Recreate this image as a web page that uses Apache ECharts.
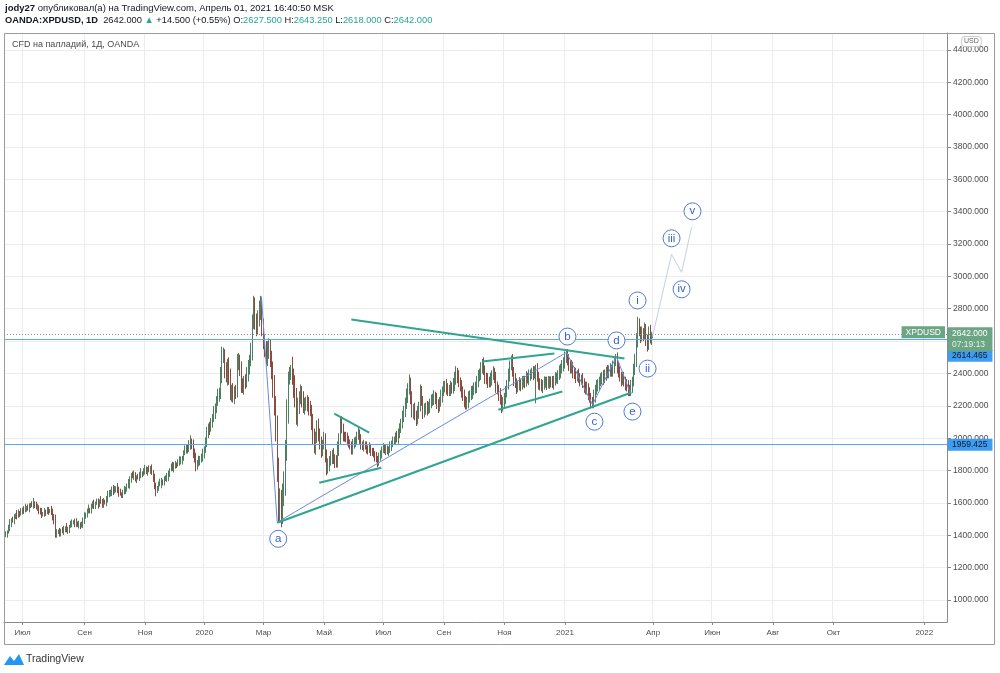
<!DOCTYPE html>
<html><head><meta charset="utf-8">
<script src="https://cdn.jsdelivr.net/npm/echarts@6.0.0/dist/echarts.min.js"></script>
<style>html,body{margin:0;padding:0;background:#fff}#c{width:1000px;height:673px}</style>
</head><body><div id="c"></div>
<script>
// ---- axis categories (trading days) ----
const startDate = '2019-06-12';
const categoryCount = 685;
const monthTicks = [
  ['2019-07-01','Июл'],['2019-09-02','Сен'],['2019-11-01','Ноя'],['2020-01-01','2020'],
  ['2020-03-02','Мар'],['2020-05-01','Май'],['2020-07-01','Июл'],['2020-09-01','Сен'],
  ['2020-11-02','Ноя'],['2021-01-01','2021'],['2021-04-01','Апр'],['2021-06-01','Июн'],
  ['2021-08-02','Авг'],['2021-10-01','Окт'],['2022-01-03','2022']
];
const yTicks = [1000,1200,1400,1600,1800,2000,2200,2400,2600,2800,3000,3200,3400,3600,3800,4000,4200,4400];

// ---- daily closes (USD), index 0 = 2019-06-12 ----
const firstOpen = 1392;
const closes = [
1398,1405,1420,1445,1470,1495,1488,1510,1525,1518,
1540,1532,1548,1560,1552,1565,1570,1562,1578,1590,
1584,1600,1588,1570,1575,1550,1538,1526,1534,1548,
1540,1555,1546,1552,1545,1512,1498,1405,1418,1425,
1412,1430,1422,1438,1445,1428,1433,1455,1470,1478,
1483,1470,1476,1462,1470,1458,1464,1490,1512,1530,
1545,1560,1555,1575,1590,1582,1598,1607,1595,1612,
1604,1590,1610,1600,1622,1645,1660,1672,1681,1668,
1685,1693,1680,1668,1655,1650,1662,1675,1690,1700,
1718,1745,1774,1762,1770,1752,1760,1755,1772,1785,
1778,1795,1805,1798,1812,1800,1808,1793,1760,1705,
1681,1695,1712,1720,1735,1728,1745,1750,1755,1780,
1805,1824,1818,1832,1840,1835,1850,1858,1867,1880,
1905,1925,1941,1935,1958,1978,1962,1916,1880,1835,
1845,1862,1870,1885,1905,1929,1975,2030,2071,2060,
2095,2130,2158,2185,2230,2265,2282,2390,2505,2510,
2420,2385,2460,2380,2275,2300,2260,2290,2282,2470,
2486,2424,2330,2319,2355,2344,2390,2443,2485,2530,
2715,2820,2730,2680,2740,2790,2830,2680,2590,2560,
2505,2540,2567,2480,2424,2320,2200,2060,1820,1560,
1620,1540,1640,1724,1930,2150,2381,2420,2443,2380,
2319,2250,2133,2200,2250,2282,2240,2195,2210,2226,
2205,2190,2176,2100,2020,1947,2010,2071,2030,1970,
1929,1960,1990,1900,1810,1835,1860,1880,1898,1870,
1855,1848,1930,1990,2096,2060,2020,2009,1995,1985,
1972,1950,1929,1955,1975,1990,2010,2034,1995,1960,
1947,1960,1950,1935,1929,1945,1920,1910,1900,1885,
1870,1850,1880,1905,1929,1940,1925,1935,1920,1929,
1950,1965,1980,1990,2005,1995,2030,2052,2090,2130,
2170,2210,2257,2300,2344,2250,2158,2180,2140,2115,
2160,2195,2282,2230,2158,2175,2190,2180,2195,2215,
2230,2245,2257,2240,2210,2195,2225,2260,2290,2313,
2325,2310,2290,2300,2315,2305,2331,2360,2405,2380,
2345,2319,2290,2260,2230,2207,2225,2250,2265,2282,
2295,2305,2319,2345,2381,2400,2430,2460,2420,2375,
2362,2350,2344,2365,2390,2405,2370,2320,2300,2270,
2238,2195,2215,2250,2282,2330,2390,2450,2480,2410,
2362,2340,2313,2325,2338,2330,2344,2355,2348,2375,
2368,2385,2395,2405,2398,2415,2424,2380,2340,2325,
2319,2330,2342,2350,2338,2345,2352,2344,2340,2355,
2368,2375,2390,2410,2430,2443,2470,2495,2520,2480,
2455,2430,2443,2410,2395,2381,2390,2372,2360,2362,
2340,2320,2300,2310,2275,2250,2225,2215,2260,2300,
2319,2335,2350,2362,2380,2370,2395,2412,2400,2420,
2424,2410,2440,2475,2490,2440,2405,2380,2360,2370,
2350,2335,2319,2300,2290,2320,2350,2420,2480,2600,
2700,2660,2628,2650,2640,2675,2600,2585,2660,2615,
2627.5
];
// upper / lower wick lengths, in units of 10 USD
const upperWick = [
1,2,1,2,3,1,2,2,1,3,2,1,2,1,2,3,1,2,2,1,
2,3,1,2,2,1,2,3,1,2,1,2,2,1,3,2,2,3,2,1,
2,1,2,2,1,3,2,1,2,2,1,2,3,1,2,1,2,2,3,1,
2,3,1,2,2,3,1,2,2,1,3,2,2,1,2,3,2,1,2,3,
2,1,3,2,2,1,2,3,1,2,3,2,1,2,3,2,1,2,2,3,
1,2,3,2,1,2,2,3,1,2,2,1,2,3,2,1,2,2,3,2,
1,2,3,2,2,1,2,3,2,1,2,3,2,2,3,4,2,3,2,3,
2,3,2,2,3,2,3,4,2,3,3,2,4,3,3,4,3,5,6,5,
4,5,3,4,5,3,4,3,4,5,4,3,5,4,3,4,5,4,3,6,
5,6,5,4,5,6,5,4,6,5,4,6,5,4,6,5,7,6,8,6,
7,6,8,7,6,9,3,2,1,6,5,7,6,5,4,5,4,5,4,3,
4,5,4,3,5,4,3,4,5,3,4,3,5,4,3,4,3,4,3,4,
3,4,5,4,3,4,3,2,3,4,3,2,3,4,3,2,3,4,2,3,
2,3,2,3,2,3,2,2,3,2,3,2,3,2,2,3,2,3,2,2,
3,2,3,2,3,4,3,4,3,4,3,4,5,4,5,3,4,3,4,3,
4,3,5,4,3,4,3,4,3,3,4,3,4,3,4,3,3,4,3,4,
3,4,3,3,4,3,4,5,4,3,4,3,4,3,4,3,3,4,3,4,
3,4,3,4,4,3,4,3,4,3,3,4,3,4,3,4,3,4,3,3,
4,3,4,3,4,3,4,3,3,4,3,4,3,3,4,3,4,3,3,4,
3,4,3,3,4,3,3,4,3,3,4,3,4,3,3,4,3,3,4,3,
4,3,3,4,3,4,3,4,3,3,4,3,4,3,3,4,3,4,3,3,
4,3,3,4,3,4,3,3,4,3,4,3,3,4,3,4,3,3,4,3,
4,3,4,3,3,4,3,4,3,3,4,3,3,4,3,4,3,4,4,5,
5,4,3,4,3,4,3,4,3,4,3
];
const lowerWick = [
2,1,2,1,2,2,1,2,1,2,1,2,1,2,2,1,2,1,2,1,
1,2,2,1,2,2,1,2,1,2,2,1,2,1,2,2,3,2,2,1,
2,2,1,2,2,1,2,2,1,2,1,2,2,1,2,2,1,2,2,1,
2,1,2,2,1,2,2,1,3,2,1,2,2,1,2,2,1,2,3,2,
1,2,2,3,1,2,2,1,2,2,1,3,2,1,2,2,3,1,2,2,
2,1,2,2,3,1,2,2,3,2,4,2,2,1,3,2,2,1,2,2,
2,1,2,3,2,2,1,2,2,3,2,1,2,3,2,3,3,4,3,4,
3,2,3,2,3,3,2,3,3,4,2,3,3,4,3,3,4,4,5,4,
5,4,6,5,4,5,4,5,4,3,5,4,5,4,5,4,3,4,5,4,
5,4,6,5,4,5,6,5,4,6,5,6,5,4,6,7,6,8,9,8,
8,9,7,6,8,7,6,5,6,5,7,6,5,6,5,4,5,4,5,4,
4,5,4,5,6,4,5,4,5,4,5,4,3,5,4,3,4,3,4,3,
4,3,3,4,3,3,4,3,2,3,3,2,3,3,2,3,3,2,3,3,
2,3,2,3,3,2,3,2,2,3,2,3,2,2,3,2,2,3,2,3,
2,3,2,2,3,2,3,3,2,3,3,4,3,4,3,4,3,4,3,4,
3,4,3,3,4,3,3,4,3,4,3,3,4,3,3,4,3,3,4,3,
3,4,3,3,4,3,3,4,3,4,3,3,4,3,4,3,3,4,3,3,
4,3,3,4,3,3,4,3,3,4,3,4,3,3,4,3,3,4,3,4,
3,4,3,3,4,3,3,4,3,3,4,3,4,3,3,4,3,3,4,3,
3,4,3,3,4,3,20,3,4,3,3,4,3,3,4,3,4,3,3,4,
3,3,4,3,4,3,3,4,3,3,4,3,3,4,3,4,3,3,4,3,
3,4,3,3,4,3,4,3,3,4,3,3,4,3,3,4,3,4,3,3,
4,3,3,4,3,4,3,3,4,3,3,4,3,4,3,3,4,3,3,4,
4,3,4,3,4,3,3,5,4,3,4
];
// last (live) bar from the header: O, H, L, C
const lastBar = [2627.5, 2643.25, 2618.0, 2642.0];
// horizontal price levels drawn on the chart
const bidLine = 2614.465;
const levelLine = 1959.425;
const lastTimer = '07:19:13';

// ---- drawn annotations (bar index, price) ----
const teal = '#2fa58f';
const trendLines = [
  [[251.8,2734],[450.2,2492]],
  [[198.0,1477],[455.3,2282]],
  [[239.4,2152],[264.8,2034]],
  [[228.5,1724],[273.6,1817]],
  [[347.0,2474],[399.3,2523]],
  [[358.6,2176],[405.1,2288]]
];
const waveLines = [
  [[186.5,2876],[198.0,1480]],
  [[198.0,1480],[408.1,2530],[427.0,2207],[444.4,2505],[454.6,2276]]
];
const projection = [[470.6,2628],[484.4,3136],[491.7,3025],[499.0,3303]];
const waveLabels = [
  ['a',198.7,1378],['b',408.8,2628],['c',428.4,2102],['d',444.4,2604],['e',456.0,2164],
  ['i',459.7,2851],['ii',467.0,2430],['iii',484.4,3235],['iv',491.7,2920],['v',499.6,3402]
];

// ---- build ----
const dates = [];
{ let d = new Date(startDate + 'T00:00:00Z');
  while (dates.length < categoryCount) {
    const w = d.getUTCDay();
    if (w !== 0 && w !== 6) dates.push(d.toISOString().slice(0,10));
    d.setUTCDate(d.getUTCDate() + 1);
  } }
const tickMap = Object.fromEntries(monthTicks);
const isTick = (i, v) => tickMap[v] !== undefined;

const candles = closes.map((c, i) => {
  const o = i ? closes[i-1] : firstOpen;
  return [o, c, Math.min(o,c) - lowerWick[i]*10, Math.max(o,c) + upperWick[i]*10];
});
candles.push([lastBar[0], lastBar[3], lastBar[2], lastBar[1]]);

const FONT = 'Liberation Sans, Arial, sans-serif';
const boxLabel = (txt, bg, fg, off) => ({position:'end', distance:1, formatter:txt, backgroundColor:bg, color:fg,
  fontSize:8.5, fontFamily:FONT, padding:[2,5,1,4], offset:[0, off]});
const series = [{
  type:'candlestick', data:candles, xAxisIndex:0, yAxisIndex:0,
  itemStyle:{color:'#6ba583', color0:'#d75442', borderColor:'#4d7f62', borderColor0:'#8e4a40', borderWidth:1},
  markLine:{
    symbol:'none', silent:true, animation:false, precision:3,
    data:[
      {yAxis:levelLine, lineStyle:{color:'#5aa9ef', type:'solid', width:1}, label:boxLabel(levelLine.toFixed(3), '#3d9df3', '#131722', 0)},
      {yAxis:bidLine, lineStyle:{color:'#5aa9ef', type:'solid', width:1}, label:boxLabel(bidLine.toFixed(3), '#3d9df3', '#131722', 17)},
      {yAxis:lastBar[3], lineStyle:{color:'#8d8d8d', type:[1,2], width:1},
       label:{position:'end', distance:1, formatter:'{p|'+lastBar[3].toFixed(3)+'}\n{t|'+lastTimer+'}', backgroundColor:'#6ba583', padding:[1,5,1,4], offset:[0,5],
              rich:{p:{color:'#ffffff', fontSize:8.5, lineHeight:11, fontFamily:FONT}, t:{color:'#e3f1e8', fontSize:8.5, lineHeight:11, fontFamily:FONT}}}},
      {yAxis:lastBar[3], lineStyle:{color:'rgba(0,0,0,0)', width:1},
       label:{position:'insideEndTop', distance:2, verticalAlign:'middle', formatter:'XPDUSD', backgroundColor:'#6ba583', color:'#ffffff', fontSize:8.5, fontFamily:FONT, padding:[2,4,1,4]}}
    ]
  }
}];
trendLines.forEach(pts => series.push({type:'line', xAxisIndex:1, yAxisIndex:0, data:pts, symbol:'none', silent:true, z:5,
  lineStyle:{color:teal, width:2}}));
waveLines.forEach(pts => series.push({type:'line', xAxisIndex:1, yAxisIndex:0, data:pts, symbol:'none', silent:true, z:4,
  lineStyle:{color:'#6c8bdc', width:1}}));
series.push({type:'line', xAxisIndex:1, yAxisIndex:0, data:projection, symbol:'none', silent:true, z:4,
  lineStyle:{color:'#c3cfe6', width:1}});
series.push({type:'scatter', xAxisIndex:1, yAxisIndex:0, z:6, silent:true, symbolSize:17,
  data:waveLabels.map(w => ({value:[w[1], w[2]], label:{formatter:w[0]}})),
  itemStyle:{color:'#ffffff', borderColor:'#4f78d8', borderWidth:1, opacity:1},
  label:{show:true, position:'inside', color:'#3563d2', fontSize:11.5, fontFamily:FONT}});

const chart = echarts.init(document.getElementById('c'), null, {renderer:'canvas'});
chart.setOption({
  animation:false,
  backgroundColor:'#ffffff',
  grid:{left:4, right:53, top:33, bottom:51},
  xAxis:[
    {type:'category', data:dates, boundaryGap:true,
     axisLine:{onZero:false, lineStyle:{color:'#8a8a8a'}},
     axisTick:{show:true, alignWithLabel:true, interval:isTick, length:3, lineStyle:{color:'#8a8a8a'}},
     axisLabel:{interval:isTick, formatter:v => tickMap[v] || '', color:'#4c4c4c', fontSize:8, fontFamily:FONT, margin:7},
     splitLine:{show:true, interval:isTick, lineStyle:{color:'#ececec'}}},
    {type:'value', min:-0.5, max:categoryCount-0.5, show:false, axisLine:{onZero:false}}
  ],
  yAxis:[{type:'value', position:'right', min:864, max:4504,
    axisLine:{show:true, onZero:false, lineStyle:{color:'#8a8a8a'}},
    axisTick:{show:true, inside:false, customValues:yTicks, length:4, lineStyle:{color:'#8a8a8a'}},
    axisLabel:{customValues:yTicks, formatter:v => v.toFixed(3), color:'#4c4c4c', fontSize:8.5, fontFamily:FONT, margin:6},
    splitLine:{show:true, lineStyle:{color:'#ececec'}}}],
  series,
  graphic:[
    {type:'rect', silent:true, z:100, shape:{x:4.5, y:33.5, width:990, height:611}, style:{fill:'none', stroke:'#9b9b9b', lineWidth:1}},
    {type:'text', x:5, y:3, z:100, style:{text:'{b|jody27} опубликовал(а) на TradingView.com, Апрель 01, 2021 16:40:50 MSK',
      fontSize:9.5, fontFamily:FONT, fill:'#131722', rich:{b:{fontWeight:'bold', fontSize:9.5, fontFamily:FONT, fill:'#131722'}}}},
    {type:'text', x:5, y:16, z:100, style:{text:'{b|OANDA:XPDUSD, 1D}  2642.000 {g|▲} +14.500 (+0.55%) O:{g|2627.500} H:{g|2643.250} L:{g|2618.000} C:{g|2642.000}',
      fontSize:9.3, fontFamily:FONT, fill:'#131722', rich:{b:{fontWeight:'bold', fontSize:9.3, fontFamily:FONT, fill:'#131722'}, g:{fontSize:9.3, fontFamily:FONT, fill:'#26a69a'}}}},
    {type:'text', x:12, y:40, z:100, style:{text:'CFD на палладий, 1Д, OANDA', fontSize:9, fontFamily:FONT, fill:'#4a4a4a'}},
    {type:'text', x:962, y:37, z:100, style:{text:'USD', fontSize:7, fontFamily:FONT, fill:'#666666', backgroundColor:'#ffffff', borderColor:'#cccccc', borderWidth:1, borderRadius:3, padding:[1,2]}},
    {type:'polygon', z:100, shape:{points:[[4,665],[10,656],[14,661],[19,654],[24,665]]}, style:{fill:'#2196f3'}},
    {type:'text', x:26, y:654, z:100, style:{text:'TradingView', fontSize:10.5, fontFamily:FONT, fill:'#333333'}}
  ]
});
</script></body></html>
